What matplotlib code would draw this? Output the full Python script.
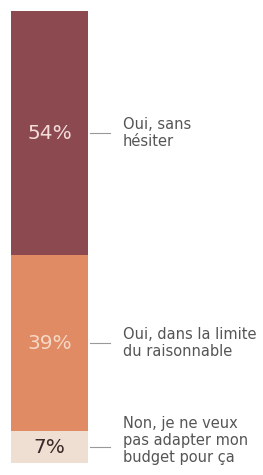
import matplotlib.pyplot as plt

# stacked from bottom to top
labels = ["Non, je ne veux\npas adapter mon\nbudget pour ça",
          "Oui, dans la limite\ndu raisonnable",
          "Oui, sans\nhésiter"]
values = [7, 39, 54]
colors = ["#EEDFD2", "#E08B64", "#8C4A50"]
text_colors = ["#3a2a28", "#F6D9C6", "#F4DCD8"]

fig = plt.figure(figsize=(2.63, 4.75), dpi=100)
ax = fig.add_axes([11/263, 12/475, 77/263, 452/475])

bottom = 0
for i, (lab, v, c, tc) in enumerate(zip(labels, values, colors, text_colors)):
    ax.bar(0, v, bottom=bottom, width=1, color=c, edgecolor="none")
    mid = bottom + v / 2
    ax.text(0, mid, f"{v}%", ha="center", va="center", color=tc,
            fontsize=14.5, family="DejaVu Sans")
    ax.plot([0.52, 0.79], [mid, mid], color="#999999", lw=0.8, clip_on=False)
    # bottom label is pushed up a bit so it stays inside the figure
    dy = 5 if i == 0 else 0
    ax.annotate(lab, (0.95, mid), xytext=(0, dy), textcoords="offset points",
                ha="left", va="center", color="#555555", fontsize=10.5,
                family="DejaVu Sans", linespacing=1.15, annotation_clip=False)
    bottom += v

ax.set_xlim(-0.5, 0.5)
ax.set_ylim(0, 100)
ax.axis("off")

plt.savefig("out.png", dpi=100)
